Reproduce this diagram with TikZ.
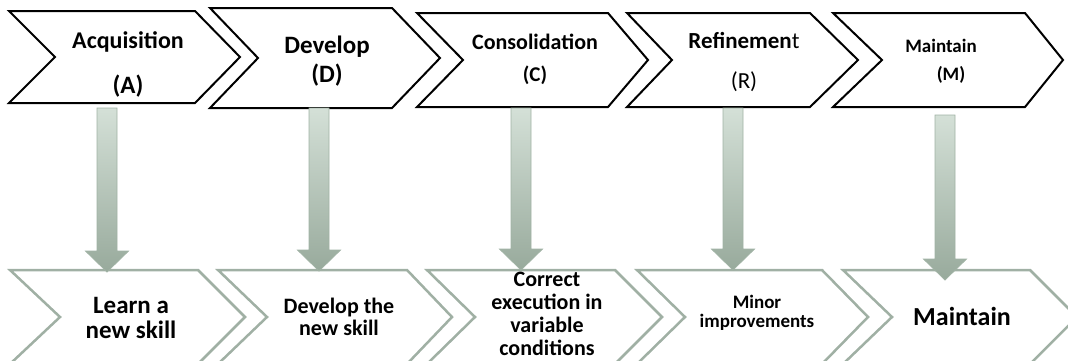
\documentclass[tikz,border=0pt]{standalone}
\usepackage{fontspec}
\setmainfont{Carlito}
\usetikzlibrary{calc}
\definecolor{chevgray}{RGB}{160,176,164}
\definecolor{arrtop}{RGB}{212,224,215}
\definecolor{arrbot}{RGB}{152,170,156}
\definecolor{arredge}{RGB}{160,178,164}
\newcommand\fs[2]{\fontsize{#1}{#2}\selectfont}
\newcommand\blockarr[2]{%
  \shade[blockarrow] ($(#1)+(-10,0)$) -- ($(#1)+(10,0)$) -- ($(#2)+(10,-21)$) --
    ($(#2)+(21.5,-21)$) -- (#2) -- ($(#2)+(-21.5,-21)$) -- ($(#2)+(-10,-21)$) -- cycle;}
\begin{document}
\begin{tikzpicture}[x=1pt,y=-1pt,
  topchev/.style={draw=black,line width=2pt,line join=miter,fill=white},
  botchev/.style={draw=chevgray,line width=2.5pt,line join=miter},
  blockarrow/.style={top color=arrtop,bottom color=arrbot,draw=arredge,line width=0.8pt},
  lbl/.style={anchor=base,inner sep=0pt,align=center,text=black}]
\useasboundingbox (0,0) rectangle (1068,360);
\clip (0,0) rectangle (1068,360);
% top chevrons
\draw[topchev] (9,11) -- (195,11) -- (240,57) -- (195,103) -- (9,103) -- (55,57) -- cycle;
\draw[topchev] (210,8) -- (392,8) -- (440,58) -- (392,108) -- (210,108) -- (258,58) -- cycle;
\draw[topchev] (417,13) -- (608,13) -- (648,60) -- (608,107) -- (417,107) -- (463,60) -- cycle;
\draw[topchev] (627,13) -- (810,13) -- (858,60) -- (810,107) -- (627,107) -- (672,60) -- cycle;
\draw[topchev] (833,13) -- (1025,13) -- (1063,60) -- (1025,107) -- (833,107) -- (882,60) -- cycle;
% bottom chevrons
\draw[botchev] (10,270) -- (198,270) -- (245,317) -- (198,364) -- (10,364) -- (60,317) -- cycle;
\draw[botchev] (218,270) -- (407,270) -- (452,317) -- (407,364) -- (218,364) -- (267,317) -- cycle;
\draw[botchev] (427,270) -- (615,270) -- (662,317) -- (615,364) -- (427,364) -- (475,317) -- cycle;
\draw[botchev] (637,270) -- (822,270) -- (868,317) -- (822,364) -- (637,364) -- (685,317) -- cycle;
\draw[botchev] (843,270) -- (1030,270) -- (1077,317) -- (1030,364) -- (843,364) -- (892,317) -- cycle;
% arrow end points
\coordinate (s1) at (107,108); \coordinate (e1) at (107,272);
\coordinate (s2) at (319,108); \coordinate (e2) at (319,271);
\coordinate (s3) at (521,108); \coordinate (e3) at (521,270);
\coordinate (s4) at (733,108); \coordinate (e4) at (733,270);
\coordinate (s5) at (945,115); \coordinate (e5) at (945,280);
\blockarr{s1}{e1}
\blockarr{s2}{e2}
\blockarr{s3}{e3}
\blockarr{s4}{e4}
\blockarr{s5}{e5}
% top labels
\node[lbl,font={\fs{24}{28}\bfseries}] (tA1) at (128,48) {Acquisition};
\node[lbl,font={\fs{25}{28}\bfseries}] (tA2) at (128,93) {(A)};
\node[lbl,font={\fs{25}{28}\bfseries}] (tD1) at (327,53) {Develop};
\node[lbl,font={\fs{25}{28}\bfseries}] (tD2) at (327,82) {(D)};
\node[lbl,font={\fs{22}{26}\bfseries}] (tC1) at (535,49) {Consolidation};
\node[lbl,font={\fs{21}{25}\bfseries}] (tC2) at (535,81) {(C)};
\node[lbl,font={\fs{23}{27}\bfseries}] (tR1) at (744,48) {Refinemen{\mdseries t}};
\node[lbl,font={\fs{23}{27}}] (tR2) at (744,88) {(R)};
\node[lbl,font={\fs{19}{23}\bfseries}] (tM1) at (941,52) {Maintain};
\node[lbl,font={\fs{19}{23}\bfseries}] (tM2) at (951,80) {(M)};
% bottom labels (base anchor = last line's baseline)
\node[lbl,font={\fs{25}{25}\bfseries}] (bA) at (131,338) {Learn a\\new skill};
\node[lbl,font={\fs{22}{22}\bfseries}] (bD) at (339,335) {Develop the\\new skill};
\node[lbl,font={\fs{22}{23}\bfseries}] (bC) at (547,355) {Correct\\execution in\\variable\\conditions};
\node[lbl,font={\fs{19}{19}\bfseries}] (bR) at (757,327) {Minor\\improvements};
\node[lbl,font={\fs{26}{30}\bfseries}] (bM) at (962,325) {Maintain};
\end{tikzpicture}
\end{document}
